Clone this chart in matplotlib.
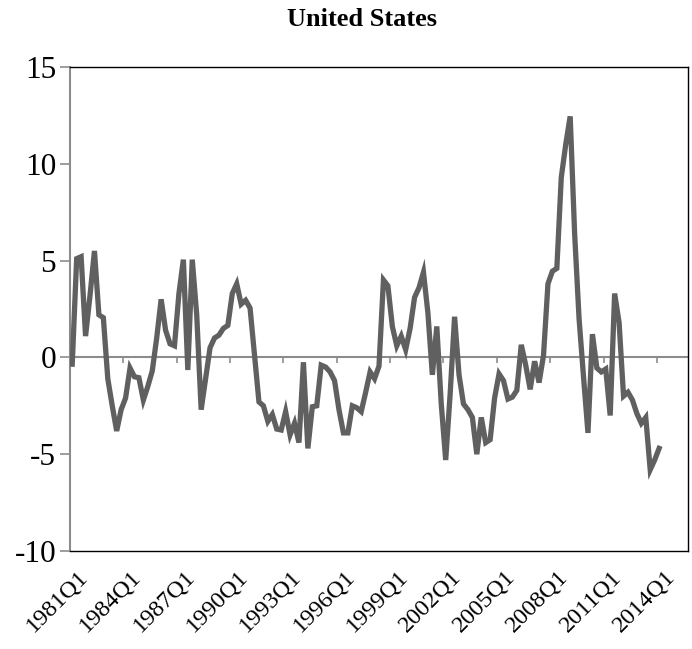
import matplotlib
matplotlib.use("Agg")
import matplotlib.pyplot as plt
import matplotlib.transforms as mtransforms
import numpy as np

# Quarterly values, 1981Q1 .. 2014Q1
values = [
    -0.35, 5.1, 5.2, 1.1, 3.2, 5.5, 2.2, 2.05, -1.1, -2.5,
    -3.8, -2.7, -2.1, -0.55, -1.0, -1.05, -2.2, -1.5, -0.7, 1.0,
    3.0, 1.4, 0.7, 0.6, 3.3, 5.05, -0.65, 5.05, 2.2, -2.7,
    -1.1, 0.5, 1.0, 1.15, 1.5, 1.65, 3.3, 3.8, 2.75, 2.95,
    2.55, 0.1, -2.3, -2.5, -3.3, -2.95, -3.7, -3.75, -2.8, -4.0,
    -3.4, -4.4, -0.25, -4.7, -2.55, -2.5, -0.4, -0.5, -0.75, -1.2,
    -2.7, -3.9, -3.9, -2.5, -2.6, -2.8, -1.8, -0.75, -1.1, -0.45,
    4.0, 3.7, 1.6, 0.6, 1.1, 0.4, 1.5, 3.1, 3.6, 4.4,
    2.3, -0.9, 1.6, -2.4, -5.3, -1.9, 2.1, -0.9, -2.4, -2.7,
    -3.1, -5.0, -3.1, -4.4, -4.25, -2.1, -0.85, -1.2, -2.15, -2.05,
    -1.7, 0.65, -0.4, -1.65, -0.2, -1.3, 0.1, 3.8, 4.45, 4.6,
    9.3, 11.0, 12.45, 6.4, 2.0, -1.0, -3.9, 1.2, -0.55, -0.75,
    -0.6, -3.0, 3.3, 1.8, -2.0, -1.8, -2.2, -2.9, -3.4, -3.1,
    -5.8, -5.3, -4.7,
]
start_year = 1981
n_categories = 139          # category axis extends to 2015Q3
label_every = 12
y_ticks = [-10, -5, 0, 5, 10, 15]
title = "United States"

line_color = "#606060"
axis_gray = "#8c8c8c"

plt.rcParams["font.family"] = ["Liberation Serif", "DejaVu Serif"]

fig = plt.figure(figsize=(6.92, 6.49), dpi=100)
ax = fig.add_axes([70 / 692, 1 - 551 / 649, 618 / 692, 484 / 649])

x = np.arange(len(values))
ax.plot(x, values, color=line_color, lw=3.8, solid_joinstyle="miter", zorder=3)

ax.set_xlim(-0.5, n_categories - 0.5)
ax.set_ylim(-10, 15)

# zero axis line with tick marks at category boundaries
ax.axhline(0, color=axis_gray, lw=1.5, zorder=2)
bounds = np.arange(label_every, n_categories, label_every) - 0.5
ax.vlines(bounds, -0.28, 0, color=axis_gray, lw=1.2, zorder=2)

# category labels
label_pos = np.arange(0, len(values), label_every)
labels = [f"{start_year + p // 4}Q{p % 4 + 1}" for p in label_pos]
ax.set_xticks(label_pos)
ax.set_xticklabels(labels, rotation=45, ha="right", va="top",
                   rotation_mode="anchor", fontsize=17.5)
ax.tick_params(axis="x", length=0, pad=11)
offset = mtransforms.ScaledTranslation(5 / 100, 0, fig.dpi_scale_trans)
for lab in ax.get_xticklabels():
    lab.set_transform(lab.get_transform() + offset)

ax.set_yticks(y_ticks)
ax.set_yticklabels([str(v) for v in y_ticks], fontsize=22.5)
ax.tick_params(axis="y", direction="out", length=7, width=1.2,
               color=axis_gray, pad=3)

for s in ["top", "right", "bottom"]:
    ax.spines[s].set_color("black")
    ax.spines[s].set_linewidth(1.0)
ax.spines["left"].set_color(axis_gray)
ax.spines["left"].set_linewidth(1.5)

fig.text(0.523, 1 - 20 / 649, title, ha="center", va="center",
         fontsize=19, fontweight="bold")

fig.savefig("out.png", dpi=100)
